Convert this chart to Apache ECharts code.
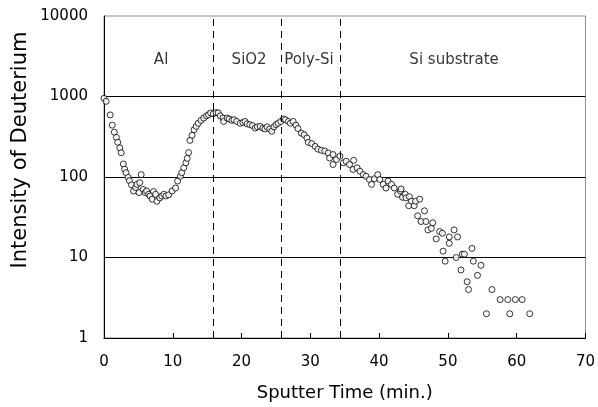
<!DOCTYPE html>
<html>
<head>
<meta charset="utf-8">
<script src="https://cdn.jsdelivr.net/npm/echarts@6/dist/echarts.min.js"></script>
<style>
html,body{margin:0;padding:0;background:#fff;}
#chart{width:598px;height:407px;}
</style>
</head>
<body>
<div id="chart"></div>
<script>
// Sputter time (min.)
var sputterTime = [
  0,0.3,0.9,1.2,1.5,1.8,2.0,2.3,2.5,2.8,3.0,3.2,3.5,3.7,4.0,4.3,4.6,4.8,5.1,5.2,5.4,5.7,6.0,6.2,6.5,6.7,7.0,7.2,7.5,7.7,8.1,8.4,8.7,9.0,9.4,9.9,10.4,10.7,11.1,11.3,11.6,11.9,12.1,12.3,12.5,12.8,13.1,13.4,13.7,14.1,14.5,14.9,15.2,15.5,
  15.9,16.3,16.6,16.9,17.3,17.4,17.9,18.2,18.6,18.9,19.3,19.8,20.2,20.5,20.8,21.2,21.6,22.0,22.3,22.7,23.1,23.4,23.7,24.1,24.4,24.7,25.0,25.3,25.7,
  26.1,26.4,26.8,27.1,27.5,27.9,28.2,28.7,29.1,29.5,29.7,30.2,30.7,31.1,31.6,32.1,32.6,32.8,33.3,33.3,33.8,
  34.3,34.8,35.2,35.7,36.2,36.3,36.8,37.2,37.7,38.1,38.6,38.9,39.3,39.8,40.1,40.6,41.0,41.3,41.8,42.2,42.7,43.1,43.2,43.4,43.8,43.9,44.3,44.4,44.7,45.1,45.3,45.6,45.9,46.1,46.6,46.8,47.1,47.6,47.8,48.3,48.8,49.2,49.3,49.6,50.2,50.2,50.9,51.2,51.4,51.9,52.1,52.4,52.8,53.0,53.5,53.7,54.3,54.8,
  55.6,56.4,57.6,58.7,59.0,59.8,60.8,61.9
];
// Intensity of Deuterium
var deuterium = [
  950,870,590,440,360,310,270,230,200,145,125,113,99,90,80,67,74,81,64,85,107,70,64,67,61,58,53,66,61,50,55,58,61,58,60,67,73,89,102,113,130,150,170,201,285,330,387,425,465,505,540,575,594,625,
  610,630,625,575,540,490,540,525,505,515,490,465,475,490,457,447,435,405,420,425,405,395,420,395,370,420,447,465,490,
  525,515,490,465,490,440,400,350,335,305,270,260,240,222,215,210,199,172,190,143,165,
  181,150,157,143,124,161,130,118,107,102,93,81,95,107,93,81,73,89,81,73,61,67,71,56,61,55,44,57,50,44,50,33,53,28,38,28,22,23,27,17,21,20,12,9,18,15,22,10,18,7,11,11,5,4,13,9,6,8,
  2,4,3,3,2,3,3,2
];
// Layer boundaries (dashed lines)
var boundaries = [15.9, 25.7, 34.4];
// Region labels
var regionNames = ["Al", "SiO2", "Poly-Si", "Si substrate"];
var regionX = [8.3, 21.1, 29.8, 50.9];
var regionY = [2850, 2850, 2850, 2850];
// Axis text
var xTitle = "Sputter Time (min.)";
var yTitle = "Intensity of Deuterium";

var FONT = "'DejaVu Sans', sans-serif";
var points = sputterTime.map(function (t, i) { return [t, deuterium[i]]; });
var labels = regionNames.map(function (n, i) { return [regionX[i], regionY[i], n]; });

var chart = echarts.init(document.getElementById('chart'), null, {renderer: 'canvas'});
chart.setOption({
  animation: false,
  backgroundColor: '#fff',
  grid: {left: 104, right: 11, top: 16, bottom: 68, show: true, borderColor: '#8c8c8c', borderWidth: 1},
  xAxis: {
    type: 'value', min: 0, max: 70, interval: 10,
    name: xTitle, nameLocation: 'middle', nameGap: 46,
    nameTextStyle: {fontFamily: FONT, fontSize: 18, color: '#000'},
    axisLine: {lineStyle: {color: '#000', width: 1}},
    axisTick: {inside: true, length: 5, lineStyle: {color: '#000'}},
    axisLabel: {fontFamily: FONT, fontSize: 15, color: '#000', margin: 17},
    splitLine: {show: false}
  },
  yAxis: {
    type: 'log', logBase: 10, min: 1, max: 10000,
    axisLine: {show: true, lineStyle: {color: '#000', width: 1}},
    axisTick: {show: false},
    axisLabel: {fontFamily: FONT, fontSize: 15, color: '#000', margin: 16,
      formatter: function (v) { return String(Math.round(v)); }},
    splitLine: {show: true, showMinLine: false, showMaxLine: false, lineStyle: {color: '#000', width: 1}},
    minorTick: {show: false}
  },
  graphic: [{
    type: 'text',
    rotation: Math.PI / 2,
    x: 21, y: 150,
    style: {text: yTitle, fontFamily: FONT, fontSize: 21, fill: '#000', align: 'center', verticalAlign: 'middle'}
  }],
  series: [{
    type: 'scatter',
    data: points,
    symbol: 'circle',
    symbolSize: 6,
    itemStyle: {color: '#fff', borderColor: '#000', borderWidth: 1},
    markLine: {
      silent: true, symbol: 'none',
      label: {show: false},
      lineStyle: {color: '#000', type: [7, 5], width: 1},
      data: boundaries.map(function (b) { return {xAxis: b}; })
    },
    z: 3
  }, {
    type: 'scatter',
    data: labels,
    symbolSize: 1,
    itemStyle: {color: 'rgba(0,0,0,0)'},
    label: {show: true, position: 'inside', formatter: function (p) { return p.value[2]; },
      fontFamily: FONT, fontSize: 15, color: '#000'},
    silent: true,
    z: 4
  }]
});
</script>
</body>
</html>
